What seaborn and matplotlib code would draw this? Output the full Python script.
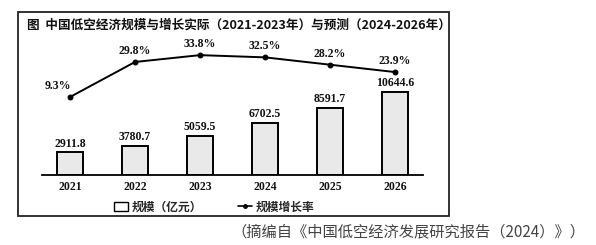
import matplotlib
matplotlib.use("Agg")
import matplotlib.pyplot as plt
import seaborn as sns
import pandas as pd
from matplotlib.patches import Rectangle, Patch
from matplotlib.lines import Line2D

years = ["2021", "2022", "2023", "2024", "2025", "2026"]
scale = [2911.8, 3780.7, 5059.5, 6702.5, 8591.7, 10644.6]
growth = [9.3, 29.8, 33.8, 32.5, 28.2, 23.9]
scale_labels = ["2911.8", "3780.7", "5059.5", "6702.5", "8591.7", "10644.6"]
growth_labels = ["9.3%", "29.8%", "33.8%", "32.5%", "28.2%", "23.9%"]
title = "图  中国低空经济规模与增长实际（2021-2023年）与预测（2024-2026年）"
legend_labels = ["规模（亿元）", "规模增长率"]
caption = "（摘编自《中国低空经济发展研究报告（2024）》）"

sns.set_theme(style="white")
plt.rcParams["font.family"] = ["Noto Sans CJK SC", "DejaVu Sans"]

df = pd.DataFrame({"year": years, "scale": scale, "growth": growth})

W, H = 596, 245
fig = plt.figure(figsize=(W / 100, H / 100), dpi=100)
fig.patch.set_facecolor("white")

def fx(px):
    return px / W

def fy(py):
    return 1 - py / H

ax = fig.add_axes([fx(42), fy(175), fx(423 - 42), (175 - 30) / H])
sns.barplot(data=df, x="year", y="scale", ax=ax, width=0.4, color="#e9e9e9",
            edgecolor="black", linewidth=1.4, saturation=1)
ax.set_xlim(-0.431, 5.431)
ax.set_ylim(0, 18590)
for s in ["top", "right", "left"]:
    ax.spines[s].set_visible(False)
ax.spines["bottom"].set_color("black")
ax.spines["bottom"].set_linewidth(1.3)
ax.set_yticks([])
ax.set_xlabel("")
ax.set_ylabel("")
ax.tick_params(axis="x", length=0, pad=4)
for t in ax.get_xticklabels():
    t.set_fontfamily(["Liberation Serif"])
    t.set_fontweight("bold")
    t.set_fontsize(8.5)
    t.set_color("#111111")

for i, (v, lab) in enumerate(zip(scale, scale_labels)):
    ax.annotate(lab, (i, v), xytext=(0, 2), textcoords="offset points",
                ha="center", va="bottom", fontsize=8.5,
                fontfamily=["Liberation Serif"], fontweight="bold", color="#111111")

ax2 = ax.twinx()
sns.lineplot(data=df, x="year", y="growth", ax=ax2, color="black", linewidth=1.4,
             marker="o", markersize=3.5, markeredgecolor="black")
ax2.set_ylim(-36.3, 48.5)
ax2.set_xlim(-0.431, 5.431)
for s in ["top", "right", "left", "bottom"]:
    ax2.spines[s].set_visible(False)
ax2.set_yticks([])
ax2.set_ylabel("")
ax2.set_xlabel("")

for i, (v, lab) in enumerate(zip(growth, growth_labels)):
    dx = -12 if i == 0 else 0
    ax2.annotate(lab, (i, v), xytext=(dx * 0.72, 3.5), textcoords="offset points",
                 ha="center", va="bottom", fontsize=8.5,
                 fontfamily=["Liberation Serif"], fontweight="bold", color="#111111")

# frame
fig.patches.append(Rectangle((fx(18), fy(216)), fx(449 - 18), (216 - 12) / H,
                             transform=fig.transFigure, fill=False,
                             edgecolor="#222222", linewidth=1.3))

fig.text(fx(27), fy(25), title, ha="left", va="center", fontsize=9.1,
         fontweight="bold", color="#111111")

handles = [Patch(facecolor="white", edgecolor="black", linewidth=1.0),
           Line2D([0], [0], color="black", linewidth=1.2, marker="o", markersize=2.5)]
fig.legend(handles, legend_labels, loc="center", bbox_to_anchor=(fx(214), fy(207)),
           ncol=2, frameon=False, handlelength=1.2, handleheight=0.9,
           handletextpad=0.3, columnspacing=3.0, prop={"weight": "bold", "size": 8.5})

fig.text(fx(585), fy(232), caption, ha="right", va="center", fontsize=11,
         color="#444444")

fig.savefig("out.png", dpi=100, facecolor="white")
